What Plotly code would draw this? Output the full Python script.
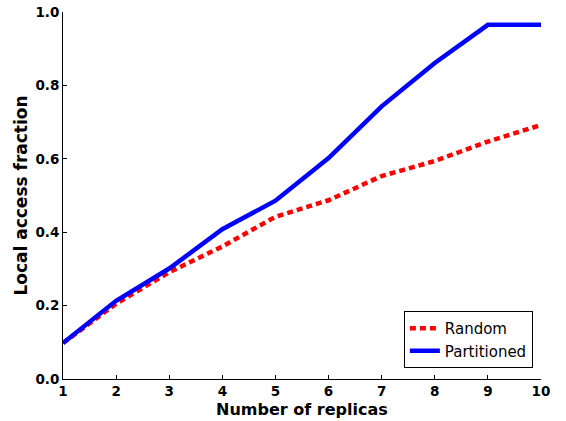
import plotly.graph_objects as go

replicas = [1, 2, 3, 4, 5, 6, 7, 8, 9, 10]
random_vals = [0.098, 0.205, 0.291, 0.361, 0.442, 0.487, 0.553, 0.594, 0.647, 0.692]
partitioned_vals = [0.098, 0.213, 0.301, 0.408, 0.486, 0.602, 0.743, 0.861, 0.965, 0.965]
x_ticks = [1, 2, 3, 4, 5, 6, 7, 8, 9, 10]
y_ticks = [0.0, 0.2, 0.4, 0.6, 0.8, 1.0]

fig = go.Figure()
fig.add_trace(go.Scatter(x=replicas, y=random_vals, mode="lines", name="Random",
                         line=dict(color="#ff0000", width=4.5, dash="6px,4px")))
fig.add_trace(go.Scatter(x=replicas, y=partitioned_vals, mode="lines", name="Partitioned",
                         line=dict(color="#0000ff", width=4.5)))

font_b = dict(family="DejaVu Sans", size=13.5, color="black", weight="bold")
title_font = dict(family="DejaVu Sans", size=17, color="black", weight="bold")
xtitle_font = dict(family="DejaVu Sans", size=16, color="black", weight="bold")
fig.update_layout(
    width=566, height=421,
    margin=dict(l=63, r=25, t=12, b=42),
    plot_bgcolor="white", paper_bgcolor="white",
    showlegend=True,
    legend=dict(x=0.983, y=0.03, xanchor="right", yanchor="bottom",
                bordercolor="black", borderwidth=1, bgcolor="white",
                font=dict(family="DejaVu Sans", size=15, color="black"),
                itemwidth=30, tracegroupgap=0),
    xaxis=dict(range=[1, 10], tickvals=x_ticks, ticktext=[str(v) for v in x_ticks],
               showline=True, linecolor="black", linewidth=1, mirror=False,
               ticks="inside", ticklen=4, tickcolor="black", showgrid=False, zeroline=False,
               tickfont=font_b, automargin=False),
    yaxis=dict(range=[0, 1.0], tickvals=y_ticks, ticktext=["%.1f" % v for v in y_ticks],
               showline=True, linecolor="black", linewidth=1, mirror=False,
               ticks="inside", ticklen=4, tickcolor="black", showgrid=False, zeroline=False,
               tickfont=font_b, automargin=False,
               title=dict(text="Local access fraction", font=title_font, standoff=3)),
    annotations=[dict(text="Number of replicas", xref="paper", yref="paper",
                      x=0.5, y=-0.112, xanchor="center", yanchor="bottom",
                      showarrow=False, font=xtitle_font, borderpad=0)],
)
fig.write_html("out.html")
